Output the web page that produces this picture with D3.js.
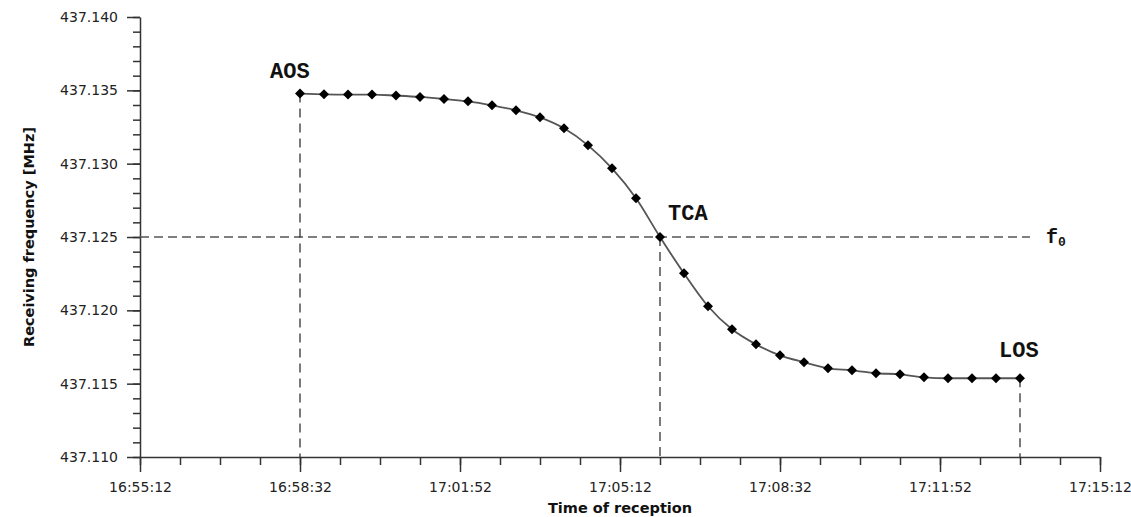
<!DOCTYPE html>
<html>
<head>
<meta charset="utf-8">
<script src="https://cdn.jsdelivr.net/npm/d3@7"></script>
<style>
  body { margin: 0; background: #fff; }
  svg { display: block; }
  .tick text { font-family: "DejaVu Sans", sans-serif; font-size: 14px; fill: #222; }
  .ann { font-family: "Liberation Mono", "Courier New", monospace; font-weight: bold; fill: #111; }
  .title { font-family: "DejaVu Sans", sans-serif; font-size: 14.5px; font-weight: bold; fill: #111; }
</style>
</head>
<body>
<svg id="chart" width="1131" height="517"></svg>
<script>
// receiving frequency samples, one every 30 s from AOS to LOS
const startTime = "16:58:32";
const stepSeconds = 30;
const freqMHz = [
  437.13478, 437.13473, 437.13471, 437.13471, 437.13464, 437.13455, 437.13441, 437.13425,
  437.13398, 437.13364, 437.13316, 437.13241, 437.13125, 437.12968, 437.12764, 437.12500,
  437.12252, 437.12028, 437.11871, 437.11768, 437.11693, 437.11646, 437.11605, 437.11591,
  437.11571, 437.11564, 437.11543, 437.11537, 437.11537, 437.11537, 437.11537
];
const f0 = 437.125;
const xTickLabels = ["16:55:12", "16:58:32", "17:01:52", "17:05:12", "17:08:32", "17:11:52", "17:15:12"];
const yTicks = [437.110, 437.115, 437.120, 437.125, 437.130, 437.135, 437.140];

const parse = d3.timeParse("%H:%M:%S");
const fmt = d3.timeFormat("%H:%M:%S");
const t0 = parse(startTime);
const points = freqMHz.map((f, i) => ({ t: new Date(t0.getTime() + i * stepSeconds * 1000), f }));
const aos = points[0], tca = points[15], los = points[points.length - 1];

const svg = d3.select("#chart");
const mLeft = 140, mRight = 1100, mTop = 17, mBottom = 457;

const x = d3.scaleTime()
  .domain([parse(xTickLabels[0]), parse(xTickLabels[xTickLabels.length - 1])])
  .range([mLeft, mRight]);
const y = d3.scaleLinear().domain([437.110, 437.140]).range([mBottom, mTop]);

// minor ticks
const xMinor = d3.range(0, 1201, 50).map(s => new Date(x.domain()[0].getTime() + s * 1000));
const yMinor = d3.range(0, 31).map(i => 437.110 + i * 0.001);

svg.append("g")
  .attr("transform", `translate(0,${mBottom})`)
  .call(d3.axisBottom(x).tickValues(xMinor).tickSize(8).tickFormat(""))
  .call(g => g.select(".domain").remove())
  .call(g => g.selectAll("line").attr("stroke", "#333").attr("stroke-width", 1.5));

svg.append("g")
  .attr("transform", `translate(${mLeft},0)`)
  .call(d3.axisLeft(y).tickValues(yMinor).tickSize(7).tickFormat(""))
  .call(g => g.select(".domain").remove())
  .call(g => g.selectAll("line").attr("stroke", "#333").attr("stroke-width", 1.5));

svg.append("g")
  .attr("transform", `translate(0,${mBottom})`)
  .call(d3.axisBottom(x).tickValues(xTickLabels.map(parse)).tickSize(15).tickPadding(10).tickSizeOuter(0).tickFormat(fmt))
  .call(g => g.select(".domain").attr("stroke", "#333").attr("stroke-width", 1.5))
  .call(g => g.selectAll("line").attr("stroke", "#333").attr("stroke-width", 1.5));

svg.append("g")
  .attr("transform", `translate(${mLeft},0)`)
  .call(d3.axisLeft(y).tickValues(yTicks).tickSize(13).tickPadding(9).tickSizeOuter(0).tickFormat(d3.format(".3f")))
  .call(g => g.select(".domain").attr("stroke", "#333").attr("stroke-width", 1.5))
  .call(g => g.selectAll("line").attr("stroke", "#333").attr("stroke-width", 1.5));

// axis titles
svg.append("text").attr("class", "title")
  .attr("x", (mLeft + mRight) / 2).attr("y", 513)
  .attr("text-anchor", "middle")
  .text("Time of reception");

svg.append("text").attr("class", "title")
  .attr("transform", `translate(34,${(mTop + mBottom) / 2}) rotate(-90)`)
  .attr("text-anchor", "middle")
  .text("Receiving frequency [MHz]");

// reference lines
svg.append("line")
  .attr("x1", mLeft).attr("x2", x(los.t) + 10)
  .attr("y1", y(f0)).attr("y2", y(f0))
  .attr("stroke", "#555").attr("stroke-width", 1.6).attr("stroke-dasharray", "9,5");

[aos, tca, los].forEach(p => {
  svg.append("line")
    .attr("x1", x(p.t)).attr("x2", x(p.t))
    .attr("y1", y(p.f)).attr("y2", mBottom)
    .attr("stroke", "#222").attr("stroke-width", 1.2).attr("stroke-dasharray", "9,6");
});

// curve and markers
svg.append("path")
  .datum(points)
  .attr("fill", "none").attr("stroke", "#555").attr("stroke-width", 1.8)
  .attr("d", d3.line().x(d => x(d.t)).y(d => y(d.f)).curve(d3.curveMonotoneX));

svg.append("g").selectAll("path")
  .data(points)
  .join("path")
  .attr("transform", d => `translate(${x(d.t)},${y(d.f)})`)
  .attr("d", "M0,-5L5,0L0,5L-5,0Z")
  .attr("fill", "#000");

// annotations
const ann = (txt, px, py) => svg.append("text").attr("class", "ann")
  .attr("x", px).attr("y", py).style("font-size", "22px").text(txt);
ann("AOS", x(aos.t) - 30, y(aos.f) - 16);
ann("TCA", x(tca.t) + 8, y(tca.f) - 17);
ann("LOS", x(los.t) - 21, y(los.f) - 21);

const f0Label = svg.append("text").attr("class", "ann")
  .attr("x", x(los.t) + 26).attr("y", y(f0) + 6).style("font-size", "20px");
f0Label.append("tspan").text("f");
f0Label.append("tspan").attr("dy", 3).style("font-size", "13px").text("0");
</script>
</body>
</html>
